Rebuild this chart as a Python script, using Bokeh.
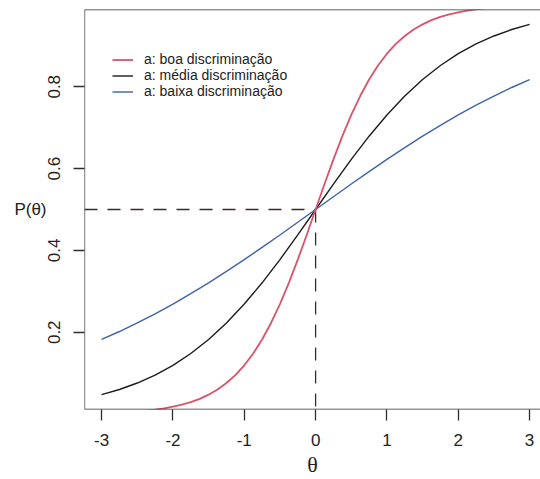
from bokeh.plotting import figure
from bokeh.models import Range1d, Legend, LegendItem, Span, FixedTicker
from bokeh.embed import file_html
from bokeh.resources import INLINE

# Item characteristic curves (2PL), difficulty b = 0, three discrimination levels
theta = [-3.0, -2.75, -2.5, -2.25, -2.0, -1.75, -1.5, -1.25, -1.0, -0.75, -0.5, -0.25,
         0.0, 0.25, 0.5, 0.75, 1.0, 1.25, 1.5, 1.75, 2.0, 2.25, 2.5, 2.75, 3.0]

# the steep curve is sampled on a finer grid
theta_fine = [-3.0, -2.875, -2.75, -2.625, -2.5, -2.375, -2.25, -2.125, -2.0, -1.875,
              -1.75, -1.625, -1.5, -1.375, -1.25, -1.125, -1.0, -0.875, -0.75, -0.625,
              -0.5, -0.375, -0.25, -0.125, 0.0, 0.125, 0.25, 0.375, 0.5, 0.625, 0.75,
              0.875, 1.0, 1.125, 1.25, 1.375, 1.5, 1.625, 1.75, 1.875, 2.0, 2.125, 2.25,
              2.375, 2.5, 2.625, 2.75, 2.875, 3.0]

p_boa = [0.0025, 0.0032, 0.0041, 0.0052, 0.0067, 0.0086, 0.0110, 0.0141, 0.0180, 0.0230,
         0.0293, 0.0373, 0.0474, 0.0601, 0.0759, 0.0953, 0.1192, 0.1480, 0.1824, 0.2227,
         0.2689, 0.3208, 0.3775, 0.4378, 0.5000, 0.5622, 0.6225, 0.6792, 0.7311, 0.7773,
         0.8176, 0.8520, 0.8808, 0.9047, 0.9241, 0.9399, 0.9526, 0.9627, 0.9707, 0.9770,
         0.9820, 0.9859, 0.9890, 0.9914, 0.9933, 0.9948, 0.9959, 0.9968, 0.9975]

p_media = [0.0474, 0.0601, 0.0759, 0.0953, 0.1192, 0.1480, 0.1824, 0.2227, 0.2689, 0.3208,
           0.3775, 0.4378, 0.5000, 0.5622, 0.6225, 0.6792, 0.7311, 0.7773, 0.8176, 0.8520,
           0.8808, 0.9047, 0.9241, 0.9399, 0.9526]

p_baixa = [0.1824, 0.2018, 0.2227, 0.2451, 0.2689, 0.2942, 0.3208, 0.3486, 0.3775, 0.4073,
           0.4378, 0.4688, 0.5000, 0.5312, 0.5622, 0.5927, 0.6225, 0.6514, 0.6792, 0.7058,
           0.7311, 0.7549, 0.7773, 0.7982, 0.8176]

labels = ["a: boa discriminação", "a: média discriminação", "a: baixa discriminação"]

x_ticks = [-3, -2, -1, 0, 1, 2, 3]
x_tick_labels = ["-3", "-2", "-1", "0", "1", "2", "3"]
y_ticks = [0.2, 0.4, 0.6, 0.8]
y_tick_labels = ["0.2", "0.4", "0.6", "0.8"]

b_param = 0.0   # item difficulty
p_mid = 0.5     # probability at theta = b

x_start, x_end = -3.24, 3.153
y_start, y_end = 0.0112, 0.9888

FONT = "Liberation Sans"
INK = "#222222"
BOX = "#2a2f33"
RED = "#D9536A"
BLACK = "#1c1c1c"
BLUE = "#3F62A8"

p = figure(width=540, height=479, output_backend="svg", toolbar_location=None,
           x_range=Range1d(x_start, x_end), y_range=Range1d(y_start, y_end),
           min_border_left=84, min_border_right=0, min_border_top=9, min_border_bottom=69)
p.background_fill_color = "white"
p.border_fill_color = "white"
p.outline_line_color = None
p.xgrid.visible = False
p.ygrid.visible = False

# box: top, bottom, left (right side runs off the page)
for loc, dim in [(y_end, "width"), (y_start, "width"), (x_start, "height")]:
    p.add_layout(Span(location=loc, dimension=dim, line_color=BOX, line_width=1.3))

for ax in (p.xaxis[0], p.yaxis[0]):
    ax.axis_line_color = None
    ax.major_tick_line_color = BOX
    ax.major_tick_line_width = 1.3
    ax.major_tick_out = 11
    ax.major_tick_in = 0
    ax.minor_tick_line_color = None
    ax.major_label_text_font = FONT
    ax.major_label_text_font_size = "17px"
    ax.major_label_text_color = INK
    ax.axis_label_text_color = INK
    ax.axis_label_text_font_style = "normal"

p.xaxis.ticker = FixedTicker(ticks=x_ticks)
p.xaxis.major_label_overrides = dict(zip(x_ticks, x_tick_labels))
p.yaxis.ticker = FixedTicker(ticks=y_ticks)
p.yaxis.major_label_overrides = dict(zip(y_ticks, y_tick_labels))
p.xaxis.major_label_standoff = 13
p.yaxis.major_label_standoff = 13
p.yaxis.major_label_orientation = "parallel"

p.xaxis.axis_label = "θ"
p.xaxis.axis_label_text_font = "Liberation Serif"
p.xaxis.axis_label_text_font_size = "22px"
p.xaxis.axis_label_standoff = 3

p.yaxis.axis_label = "P(θ)"
p.yaxis.axis_label_orientation = "horizontal"
p.yaxis.axis_label_text_font = FONT
p.yaxis.axis_label_text_font_size = "17px"
p.yaxis.axis_label_standoff = -1

# reference lines at b and P = 0.5
p.line([x_start, b_param], [p_mid, p_mid], line_color="#3a2b2b", line_width=1.3, line_dash="13 10")
p.line([b_param, b_param], [p_mid, y_start], line_color="#3a2b2b", line_width=1.3, line_dash="13 10")

r_media = p.line(theta, p_media, line_color=BLACK, line_width=1.4)
r_baixa = p.line(theta, p_baixa, line_color=BLUE, line_width=1.4)
r_boa = p.line(theta_fine, p_boa, line_color=RED, line_width=1.8)

legend = Legend(items=[LegendItem(label=labels[0], renderers=[r_boa]),
                       LegendItem(label=labels[1], renderers=[r_media]),
                       LegendItem(label=labels[2], renderers=[r_baixa])],
                location=(28, 310), orientation="vertical",
                label_text_font=FONT, label_text_font_size="14px", label_text_color=INK,
                glyph_width=21, glyph_height=15, label_height=15, label_standoff=11,
                spacing=0, padding=0, margin=0,
                border_line_color=None, background_fill_alpha=0)
p.add_layout(legend)

open("out.html", "w").write(file_html(p, INLINE))
